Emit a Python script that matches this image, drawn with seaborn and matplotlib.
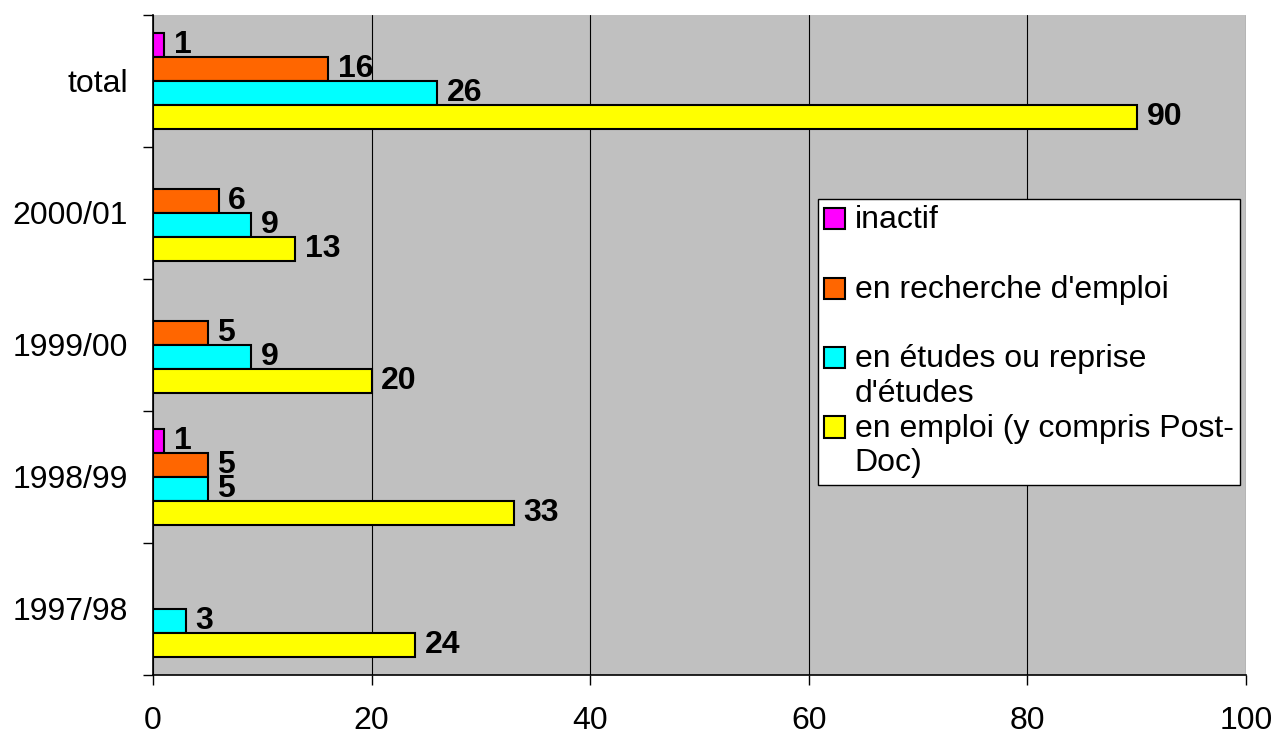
import numpy as np
import pandas as pd
import matplotlib
matplotlib.use("Agg")
import matplotlib.pyplot as plt
import seaborn as sns
from matplotlib.patches import Patch, Rectangle
from matplotlib.legend_handler import HandlerPatch

# data
years = ["total", "2000/01", "1999/00", "1998/99", "1997/98"]
statuses = ["inactif", "en recherche d'emploi", "en études ou reprise d'études",
            "en emploi (y compris Post-Doc)"]
legend_labels = ["inactif\n ", "en recherche d'emploi\n ",
                 "en études ou reprise\nd'études", "en emploi (y compris Post-\nDoc)"]
inactif = [1, 0, 0, 1, 0]
recherche = [16, 6, 5, 5, 0]
etudes = [26, 9, 9, 5, 3]
emploi = [90, 13, 20, 33, 24]
colors = ["#FF00FF", "#FF6600", "#00FFFF", "#FFFF00"]

df = pd.DataFrame({
    "year": np.tile(years, 4),
    "status": np.repeat(statuses, len(years)),
    "value": inactif + recherche + etudes + emploi,
})
# zero values get no bar and no label
df = df[df["value"] > 0]

sns.set_style("white", rc={"text.color": "black", "xtick.color": "black",
                           "ytick.color": "black", "axes.labelcolor": "black"})
plt.rcParams["font.family"] = ["Liberation Sans", "DejaVu Sans"]

fig = plt.figure(figsize=(12.76, 7.31), dpi=100)
ax = fig.add_axes([153 / 1276, 1 - 675 / 731, 1093 / 1276, 660 / 731])
ax.set_facecolor("#C0C0C0")

sns.barplot(data=df, y="year", x="value", hue="status", order=years,
            hue_order=statuses, palette=colors, saturation=1, orient="h",
            width=0.73, edgecolor="black", linewidth=1.5, legend=False, ax=ax)

for c in ax.containers:
    ax.bar_label(c, fmt="%g", padding=7, fontsize=23, fontweight="bold")

# axes styling
ax.set_xlim(0, 100)
ax.set_xticks(range(0, 101, 20))
ax.set_xlabel("")
ax.set_ylabel("")
ax.xaxis.grid(True, color="black", linewidth=0.8)
ax.set_axisbelow(True)
ax.tick_params(axis="x", direction="out", length=7, width=1, color="black",
               labelsize=23, pad=15, bottom=True)
ax.tick_params(axis="y", which="major", length=0, labelsize=23, pad=18)
ax.set_yticks(np.arange(-0.5, len(years), 1.0), minor=True)
ax.tick_params(axis="y", which="minor", direction="out", length=7, width=1,
               color="black", left=True)
for side in ["top", "right"]:
    ax.spines[side].set_visible(False)
for side in ["left", "bottom"]:
    ax.spines[side].set_color("black")
    ax.spines[side].set_linewidth(1.2)


# legend squares sit next to the first line of each entry
def raised_square(legend, orig_handle, xdescent, ydescent, width, height, fontsize):
    return Rectangle((-xdescent, -ydescent + 0.6 * fontsize), width, height)


handles = [Patch(facecolor=col, edgecolor="black", linewidth=1.5) for col in colors]
leg = fig.legend(handles, legend_labels, loc="upper left",
                 bbox_to_anchor=(818 / 1276, 1 - 199 / 731), borderaxespad=0,
                 fontsize=23, frameon=True, fancybox=False, framealpha=1,
                 edgecolor="black", labelspacing=0.15, handlelength=0.65,
                 handleheight=0.65, handletextpad=0.3, borderpad=0.2,
                 handler_map={Patch: HandlerPatch(patch_func=raised_square)})
leg.get_frame().set_linewidth(1.0)

fig.savefig("out.png", dpi=100)
